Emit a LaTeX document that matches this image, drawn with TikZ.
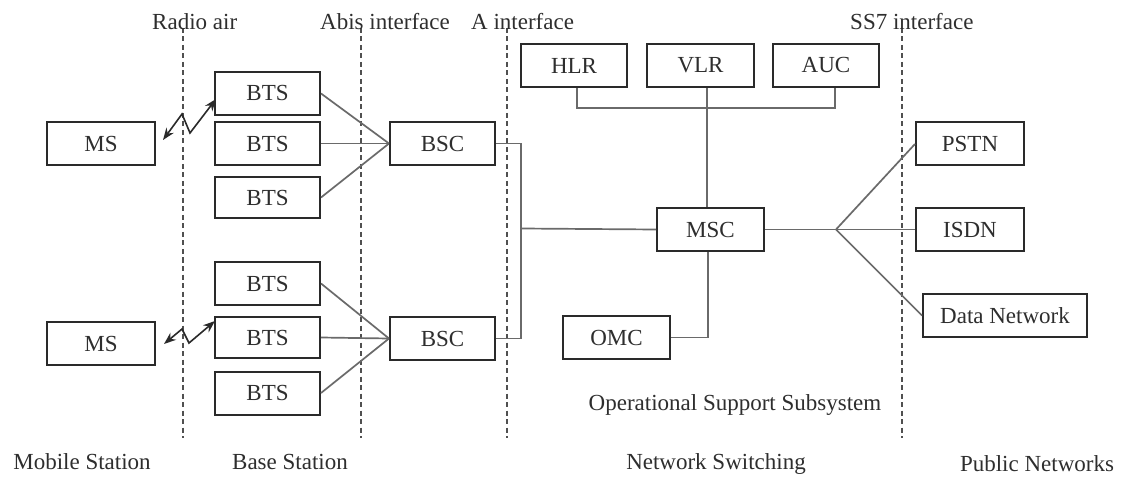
\documentclass[tikz,border=0pt]{standalone}
\usepackage{fontspec}
\setmainfont{Liberation Serif}
\usetikzlibrary{arrows.meta}
\definecolor{boxc}{HTML}{2A2A2A}
\definecolor{linec}{HTML}{6A6A6A}
\definecolor{txtc}{HTML}{2E2E2E}
\definecolor{dashc}{HTML}{505050}
\begin{document}
\begin{tikzpicture}[x=1pt,y=-1pt,
  box/.style={draw=boxc,line width=2pt,inner sep=0pt,minimum height=43pt,
    text=txtc,font=\fontsize{23}{27}\selectfont},
  conn/.style={draw=linec,line width=1.7pt},
  sep/.style={draw=dashc,line width=1.4pt,dash pattern=on 5pt off 3.5pt},
  lbl/.style={text=txtc,inner sep=0pt,font=\fontsize{23}{27}\selectfont},
  radio/.style={draw=boxc,line width=1.6pt,{Stealth[length=12pt,width=9pt]}-{Stealth[length=12pt,width=9pt]}}]
\useasboundingbox[fill=white] (0,0) rectangle (1126,478);

% separators
\foreach \n/\x in {d1/183,d2/361,d3/507,d4/902}{
  \coordinate (\n t) at (\x,28);
  \coordinate (\n b) at (\x,438);
  \draw[sep] (\n t) -- (\n b);
}

% top labels
\node[lbl,anchor=west] (lradio) at (152,22) {Radio air};
\node[lbl,anchor=west] (labis) at (320,22) {Abis interface};
\node[lbl,anchor=west] (la) at (471,22) {A interface};
\node[lbl,anchor=west] (lss7) at (850,22) {SS7 interface};

% bottom labels
\node[lbl] (lms) at (82,462) {Mobile Station};
\node[lbl] (lbs) at (290,462) {Base Station};
\node[lbl] (lns) at (716,464) {Network Switching};
\node[lbl] (lpn) at (1037,464) {Public Networks};
\node[lbl] (loss) at (735,405) {Operational Support Subsystem};

% mobile stations
\node[box,minimum width=108pt] (MS1) at (101,143.5) {MS};
\node[box,minimum width=108pt] (MS2) at (101,343.5) {MS};

% BTS
\node[box,minimum width=105pt] (BTS1) at (267.5,93.5) {BTS};
\node[box,minimum width=105pt] (BTS2) at (267.5,143.5) {BTS};
\node[box,minimum width=105pt,minimum height=41pt] (BTS3) at (267.5,197.5) {BTS};
\node[box,minimum width=105pt] (BTS4) at (267.5,283.5) {BTS};
\node[box,minimum width=105pt,minimum height=41pt] (BTS5) at (267.5,337.5) {BTS};
\node[box,minimum width=105pt] (BTS6) at (267.5,393) {BTS};

% BSC
\node[box,minimum width=105pt] (BSC1) at (442.5,143.5) {BSC};
\node[box,minimum width=105pt] (BSC2) at (442.5,338.5) {BSC};

% NSS
\node[box,minimum width=106pt] (HLR) at (574,65.5) {HLR};
\node[box,minimum width=107pt] (VLR) at (700.5,65.5) {VLR};
\node[box,minimum width=106pt] (AUC) at (826,65.5) {AUC};
\node[box,minimum width=107pt] (MSC) at (710.5,229.5) {MSC};
\node[box,minimum width=107pt] (OMC) at (616.5,337.5) {OMC};

% public networks
\node[box,minimum width=108pt] (PSTN) at (970,144) {PSTN};
\node[box,minimum width=108pt] (ISDN) at (970,229.5) {ISDN};
\node[box,minimum width=164pt] (DN) at (1005,315.5) {Data Network};

% BTS to BSC
\foreach \b in {BTS1,BTS2,BTS3}{\draw[conn] (\b.east) -- (BSC1.west);}
\foreach \b in {BTS4,BTS5,BTS6}{\draw[conn] (\b.east) -- (BSC2.west);}

% BSC to MSC
\coordinate (jA) at (521,228.5);
\draw[conn] (BSC1.east) -| (jA) |- (BSC2.east);
\draw[conn] (jA) -- (MSC.west);

% MSC to public networks
\coordinate (br) at (836,229.5);
\draw[conn] (MSC.east) -- (br);
\draw[conn] (br) -- (PSTN.west);
\draw[conn] (br) -- (ISDN.west);
\draw[conn] (br) -- (DN.west);

% HLR / AUC bracket, VLR to MSC
\draw[conn] ([xshift=3pt]HLR.south) -- ++(0,20) -| ([xshift=9pt]AUC.south);
\draw[conn] ([xshift=-3.5pt]MSC.north) -- ([xshift=-3.5pt]MSC.north |- VLR.south);

% MSC to OMC
\draw[conn] ([xshift=-2.5pt]MSC.south) |- (OMC.east);

% radio links
\coordinate (r1a) at (163,140);
\coordinate (r1b) at (182,114);
\coordinate (r1c) at (190,133);
\coordinate (r1d) at (216,99);
\draw[radio] (r1a) -- (r1b) -- (r1c) -- (r1d);
\coordinate (r2a) at (164,344);
\coordinate (r2b) at (182,329);
\coordinate (r2c) at (189,343);
\coordinate (r2d) at (215,321);
\draw[radio] (r2a) -- (r2b) -- (r2c) -- (r2d);
\end{tikzpicture}
\end{document}
